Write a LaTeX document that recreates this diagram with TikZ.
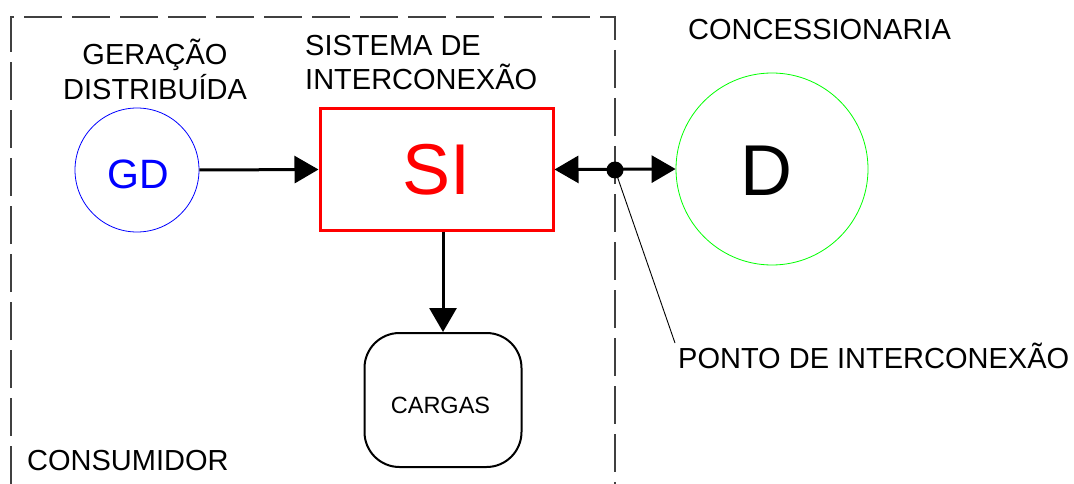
\documentclass[tikz,border=0pt]{standalone}
\usepackage{fontspec}
\setmainfont{Liberation Sans}
\usetikzlibrary{arrows.meta}
\begin{document}
\begin{tikzpicture}[x=1pt,y=-1pt,
  lbl/.style={inner sep=0pt,anchor=base west,font=\fontsize{29}{29}\selectfont},
  conn/.style={line width=3pt},
  frame/.style={draw=black!75,line width=1.2pt,dash pattern=on 38pt off 10pt}]
\useasboundingbox (0,0) rectangle (1074,484);
% consumer frame
\coordinate (f1) at (11,484);
\coordinate (f2) at (11,17);
\coordinate (f3) at (615,17);
\coordinate (f4) at (615,484);
\draw[frame] (f1) -- (f2) -- (f3) -- (f4);
% nodes
\node[draw=blue,line width=0.8pt,circle,minimum size=124pt,inner sep=0pt] (gd) at (137,170) {};
\node[inner sep=0pt,text=blue,font=\fontsize{41}{41}\selectfont] (gdt) at (138,174) {GD};
\node[draw=red,line width=3pt,minimum width=233pt,minimum height=121pt,inner sep=0pt,
      text=red,font=\fontsize{72}{72}\selectfont] (si) at (436.5,169.5) {SI};
\node[draw=green,line width=0.8pt,circle,minimum size=192pt,inner sep=0pt] (d) at (772,169) {};
\node[inner sep=0pt,font=\fontsize{72}{72}\selectfont] (dt) at (766,171) {D};
\node[draw,line width=2pt,rounded corners=35pt,minimum width=157pt,minimum height=134pt,inner sep=0pt] (cg) at (443,400) {};
\node[inner sep=0pt,font=\fontsize{23.5}{23.5}\selectfont] (cgt) at (440.5,405) {CARGAS};
\node[circle,fill=black,minimum size=17pt,inner sep=0pt] (pt) at (615,170) {};
\coordinate (le) at (675,343);
% labels
\node[lbl,anchor=base] (g1) at (155,65) {GERAÇÃO};
\node[lbl,anchor=base] (g2) at (155,100) {DISTRIBUÍDA};
\node[lbl] (s1) at (305,56) {SISTEMA DE};
\node[lbl] (s2) at (305,90) {INTERCONEXÃO};
\node[lbl] (cc) at (688,40) {CONCESSIONARIA};
\node[lbl] (pi) at (678,368) {PONTO DE INTERCONEXÃO};
\node[lbl] (cs) at (27,470) {CONSUMIDOR};
% connectors
\draw[conn,-{Triangle[length=24pt,width=27pt]}] (gd.east) -- (si.west);
\draw[conn,{Triangle[length=24pt,width=27pt]}-{Triangle[length=24pt,width=27pt]}] (si.east) -- (d.west);
\draw[conn,-{Triangle[length=24pt,width=27pt]}] (si.south -| cg.north) -- (cg.north);
\draw[line width=0.9pt] (pt.center) -- (le);
\end{tikzpicture}
\end{document}
